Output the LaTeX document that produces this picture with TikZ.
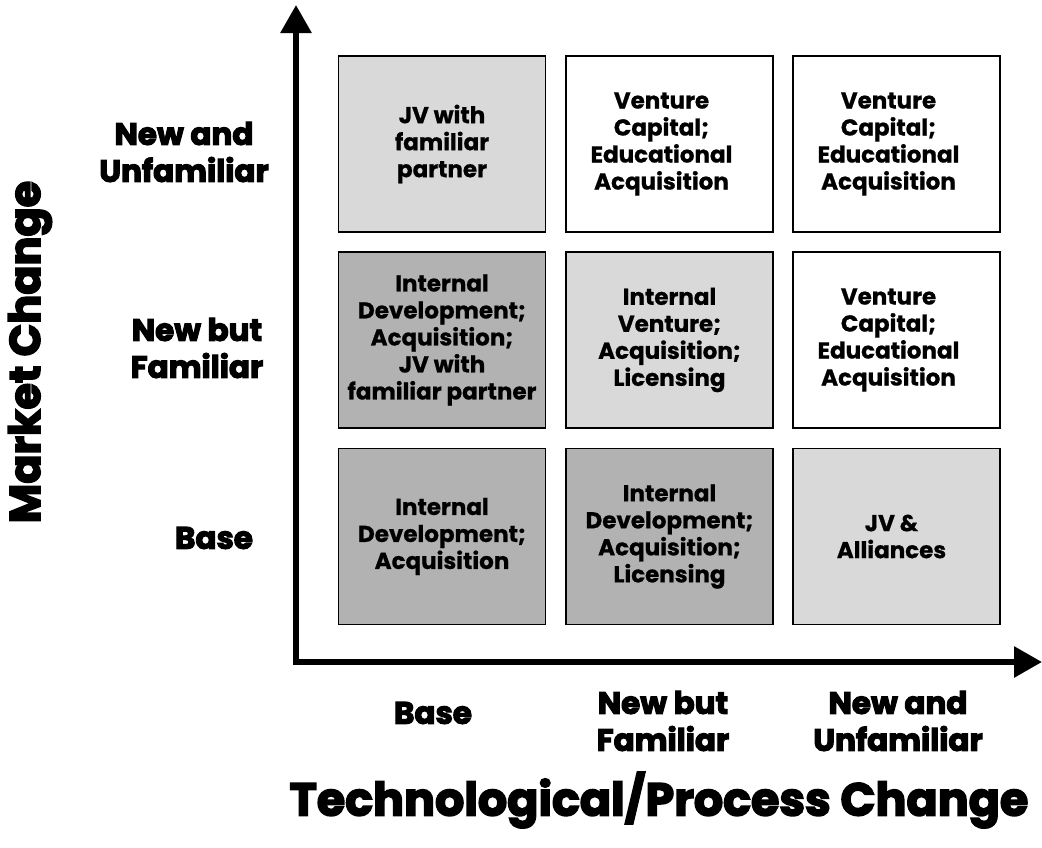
\documentclass[tikz,border=0pt]{standalone}
\usepackage{fontspec}
\setmainfont{Poppins}[BoldFont={* Bold}]
\newfontfamily\heavyfont{Poppins Bold}[FakeBold=3.5]
\newfontfamily\cellfont{Poppins Bold}[FakeBold=0.8]
\usetikzlibrary{arrows.meta}
\definecolor{lightbox}{HTML}{D9D9D9}
\definecolor{darkbox}{HTML}{B2B2B2}
\tikzset{
  cell/.style={draw=black,line width=1.2pt,minimum width=207pt,minimum height=176pt,
    inner sep=0pt},
  celltext/.style={align=center,inner sep=0pt,font=\fontsize{23}{27}\selectfont\cellfont},
  rowlab/.style={align=center,font=\fontsize{31}{37}\selectfont\heavyfont},
  axistitle/.style={font=\fontsize{46}{52}\selectfont\heavyfont},
  axisline/.style={line width=6pt,line join=miter,
    {Triangle[width=30pt,length=28pt]}-{Triangle[width=30pt,length=28pt]}}
}
\begin{document}
\begin{tikzpicture}[x=1pt,y=-1pt]
\useasboundingbox (0,0) rectangle (1042,847);
% cells
\node[cell,fill=lightbox,label={[celltext]center:JV with\\familiar\\partner}] (c13) at (442,144) {};
\node[cell,fill=white,label={[celltext,xshift=-8pt]center:Venture\\Capital;\\Educational\\Acquisition}] (c23) at (669.5,144) {};
\node[cell,fill=white,label={[celltext,xshift=-8pt]center:Venture\\Capital;\\Educational\\Acquisition}] (c33) at (896.5,144) {};
\node[cell,fill=darkbox,label={[celltext]center:Internal\\Development;\\Acquisition;\\JV with\\familiar partner}] (c12) at (442,340) {};
\node[cell,fill=lightbox,label={[celltext]center:Internal\\Venture;\\Acquisition;\\Licensing}] (c22) at (669.5,340) {};
\node[cell,fill=white,label={[celltext,xshift=-8pt]center:Venture\\Capital;\\Educational\\Acquisition}] (c32) at (896.5,340) {};
\node[cell,fill=darkbox,label={[celltext]center:Internal\\Development;\\Acquisition}] (c11) at (442,536.5) {};
\node[cell,fill=darkbox,label={[celltext]center:Internal\\Development;\\Acquisition;\\Licensing}] (c21) at (669.5,536.5) {};
\node[cell,fill=lightbox,label={[celltext,xshift=-5pt]center:JV \&\\Alliances}] (c31) at (896.5,536.5) {};
% axes
\coordinate (ytip) at (296,5);
\coordinate (origin) at (296,662);
\coordinate (xtip) at (1042,662);
\draw[axisline] (ytip) -- (origin) -- (xtip);
% row labels
\node[rowlab] (r3) at (184,152) {New and\\Unfamiliar};
\node[rowlab] (r2) at (197,348) {New but\\Familiar};
\node[rowlab] (r1) at (214,538) {Base};
% column labels
\node[rowlab] (k1) at (433,713) {Base};
\node[rowlab] (k2) at (663,721) {New but\\Familiar};
\node[rowlab] (k3) at (898,721) {New and\\Unfamiliar};
% titles
\node[axistitle] (xt) at (659,800) {Technological/Process Change};
\node[axistitle,font=\fontsize{43}{50}\selectfont\heavyfont,rotate=90] (yt) at (30,352) {Market Change};
\end{tikzpicture}
\end{document}
